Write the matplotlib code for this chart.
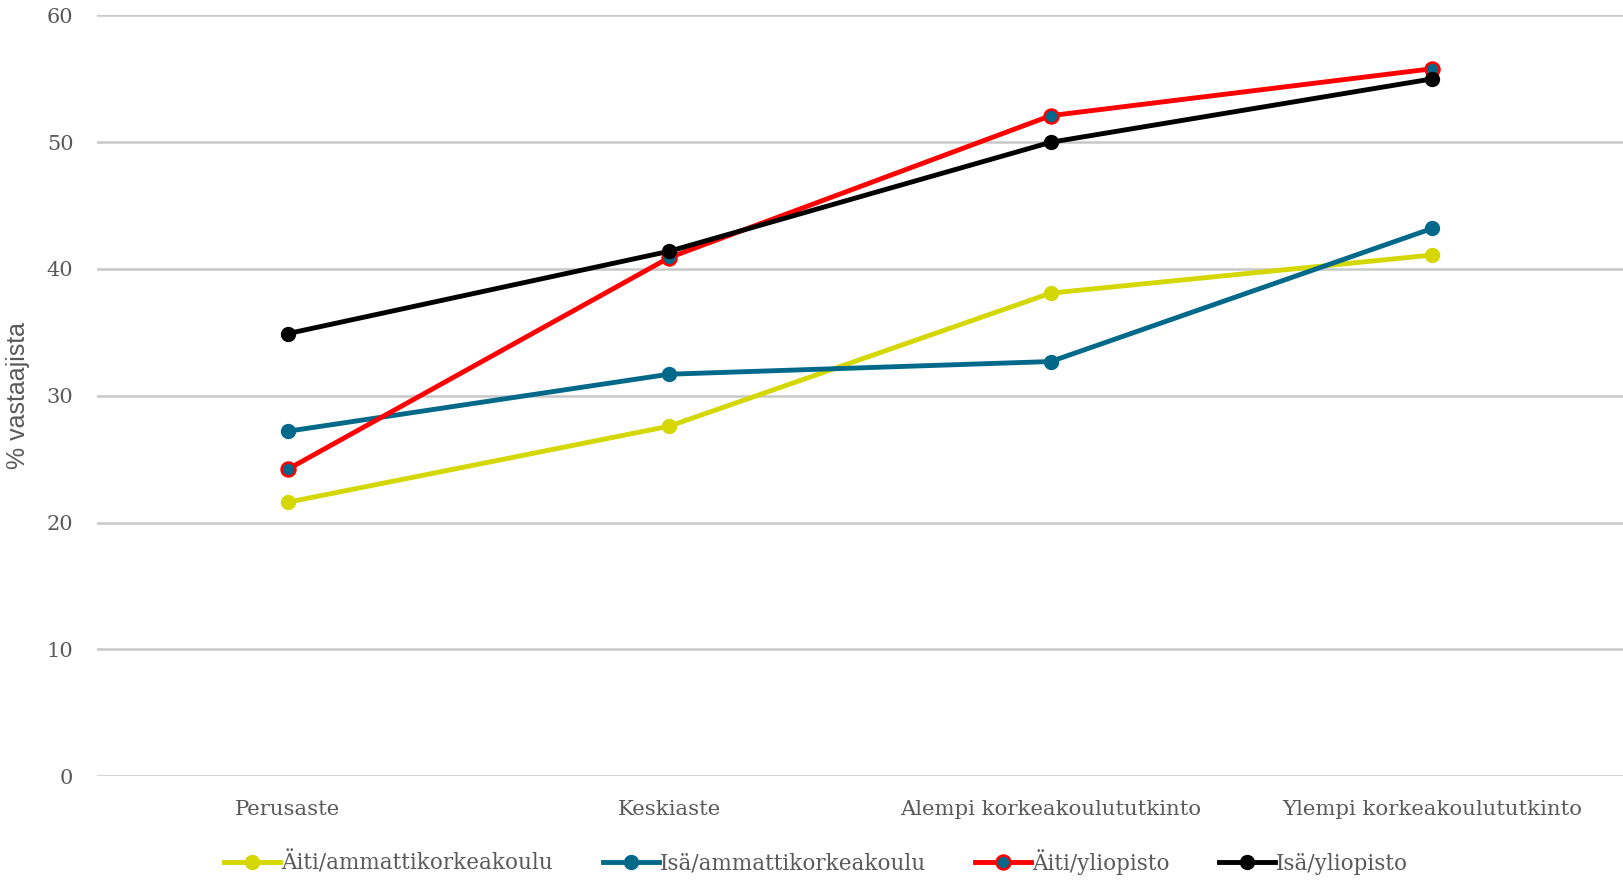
import matplotlib.pyplot as plt
from matplotlib import font_manager

categories = ["Perusaste", "Keskiaste", "Alempi korkeakoulututkinto", "Ylempi korkeakoulututkinto"]
aiti_amk = [21.6, 27.6, 38.1, 41.1]
isa_amk = [27.2, 31.7, 32.7, 43.2]
aiti_yo = [24.2, 40.9, 52.1, 55.8]
isa_yo = [34.9, 41.4, 50.0, 55.0]
series_names = ["Äiti/ammattikorkeakoulu", "Isä/ammattikorkeakoulu", "Äiti/yliopisto", "Isä/yliopisto"]

names = {f.name for f in font_manager.fontManager.ttflist}
narrow = "Liberation Sans Narrow" if "Liberation Sans Narrow" in names else "Liberation Sans"

plt.rcParams['font.family'] = ['DejaVu Serif', 'DejaVu Sans']

fig = plt.figure(figsize=(16.23, 8.8), dpi=100)
ax = fig.add_axes([97 / 1623, 104 / 880, 1 - 97 / 1623, (776 - 15.5) / 880])

x = range(len(categories))
yellow = "#D4D700"
teal = "#00698A"
lw = 3.5
ms = 10
ax.plot(x, aiti_amk, color=yellow, lw=lw, marker="o", ms=ms, label=series_names[0], zorder=3)
ax.plot(x, isa_amk, color=teal, lw=lw, marker="o", ms=ms, label=series_names[1], zorder=3)
ax.plot(x, aiti_yo, color="#FF0000", lw=lw, marker="o", ms=ms, mfc=teal, mec="#FF0000",
        mew=1.8, label=series_names[2], zorder=4)
ax.plot(x, isa_yo, color="black", lw=lw, marker="o", ms=ms, label=series_names[3], zorder=5)

ax.set_xlim(-0.5, 3.5)
ax.set_ylim(0, 60)
ax.set_yticks(range(0, 61, 10))
ax.set_xticks(list(x))
ax.set_xticklabels(categories, fontsize=15.3)
ax.grid(axis="y", color="#C8C8C8", lw=1.8)
ax.set_axisbelow(True)
for s in ax.spines.values():
    s.set_visible(False)
ax.tick_params(axis="both", length=0, labelcolor="#595959")
ax.tick_params(axis="y", labelsize=15, pad=17)
ax.tick_params(axis="x", pad=17)
ax.set_ylabel("% vastaajista", fontsize=18, color="#595959", family=[narrow, 'DejaVu Sans'])
ax.yaxis.set_label_coords(-0.044, 0.5)

fig.legend(loc="lower center", bbox_to_anchor=(0.503, -0.016), ncol=4, frameon=False,
           fontsize=15.5, handlelength=2.6, handletextpad=0.05, columnspacing=2.3,
           labelcolor="#595959")

fig.savefig("out.png", dpi=100)
